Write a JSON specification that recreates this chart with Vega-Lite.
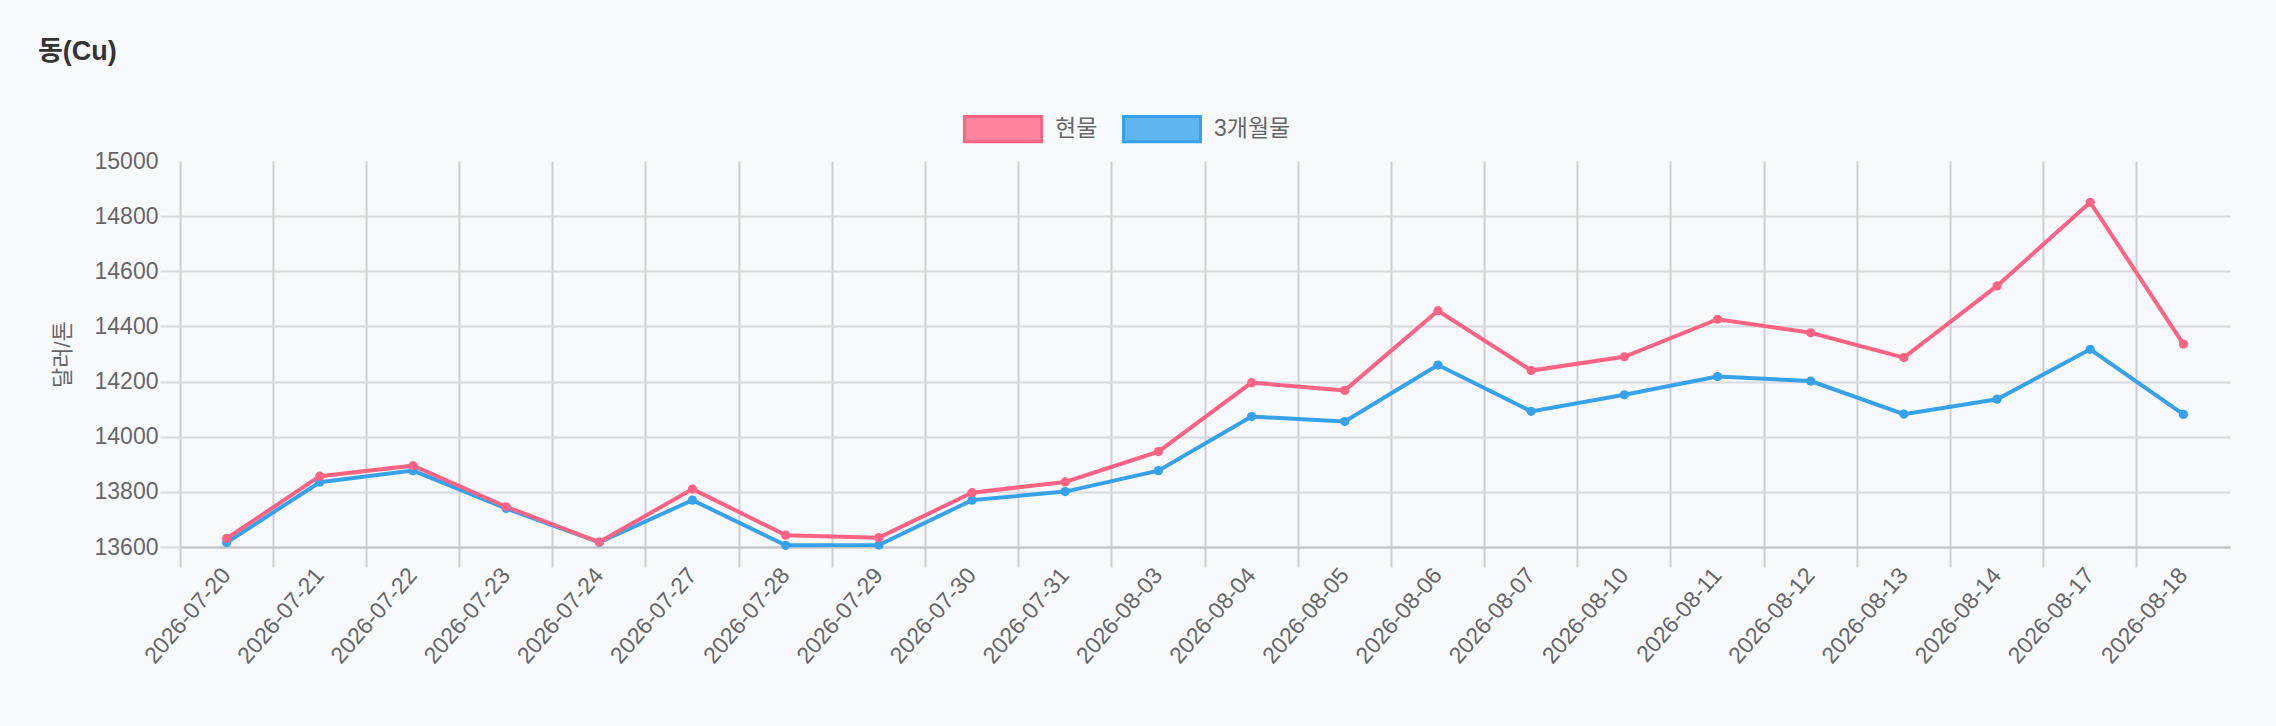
{
  "$schema": "https://vega.github.io/schema/vega-lite/v6.json",
  "width": 2050,
  "height": 386,
  "autosize": {"type": "none"},
  "padding": {"left": 180, "top": 161, "right": 46, "bottom": 179},
  "background": "#f8f9fd",
  "view": {"stroke": null},
  "config": {
    "font": "Liberation Sans, Noto Sans CJK KR, sans-serif"
  },
  "title": {
    "text": "동(Cu)",
    "anchor": "start",
    "frame": "group",
    "dx": -142,
    "offset": 23,
    "fontSize": 27,
    "fontWeight": "bold",
    "color": "#333333",
    "font": "Liberation Sans, Noto Sans CJK KR, sans-serif"
  },
  "data": {
    "values": [
      {"date": "2026-07-20", "series": "3개월물", "price": 13616},
      {"date": "2026-07-21", "series": "3개월물", "price": 13835},
      {"date": "2026-07-22", "series": "3개월물", "price": 13877},
      {"date": "2026-07-23", "series": "3개월물", "price": 13740},
      {"date": "2026-07-24", "series": "3개월물", "price": 13617},
      {"date": "2026-07-27", "series": "3개월물", "price": 13770},
      {"date": "2026-07-28", "series": "3개월물", "price": 13606},
      {"date": "2026-07-29", "series": "3개월물", "price": 13607},
      {"date": "2026-07-30", "series": "3개월물", "price": 13770},
      {"date": "2026-07-31", "series": "3개월물", "price": 13801},
      {"date": "2026-08-03", "series": "3개월물", "price": 13877},
      {"date": "2026-08-04", "series": "3개월물", "price": 14073},
      {"date": "2026-08-05", "series": "3개월물", "price": 14055},
      {"date": "2026-08-06", "series": "3개월물", "price": 14260},
      {"date": "2026-08-07", "series": "3개월물", "price": 14092},
      {"date": "2026-08-10", "series": "3개월물", "price": 14152},
      {"date": "2026-08-11", "series": "3개월물", "price": 14218},
      {"date": "2026-08-12", "series": "3개월물", "price": 14202},
      {"date": "2026-08-13", "series": "3개월물", "price": 14082},
      {"date": "2026-08-14", "series": "3개월물", "price": 14136},
      {"date": "2026-08-17", "series": "3개월물", "price": 14317},
      {"date": "2026-08-18", "series": "3개월물", "price": 14081},
      {"date": "2026-07-20", "series": "현물", "price": 13631},
      {"date": "2026-07-21", "series": "현물", "price": 13857},
      {"date": "2026-07-22", "series": "현물", "price": 13895},
      {"date": "2026-07-23", "series": "현물", "price": 13746},
      {"date": "2026-07-24", "series": "현물", "price": 13618},
      {"date": "2026-07-27", "series": "현물", "price": 13810},
      {"date": "2026-07-28", "series": "현물", "price": 13643},
      {"date": "2026-07-29", "series": "현물", "price": 13634},
      {"date": "2026-07-30", "series": "현물", "price": 13797},
      {"date": "2026-07-31", "series": "현물", "price": 13836},
      {"date": "2026-08-03", "series": "현물", "price": 13946},
      {"date": "2026-08-04", "series": "현물", "price": 14196},
      {"date": "2026-08-05", "series": "현물", "price": 14168},
      {"date": "2026-08-06", "series": "현물", "price": 14457},
      {"date": "2026-08-07", "series": "현물", "price": 14240},
      {"date": "2026-08-10", "series": "현물", "price": 14290},
      {"date": "2026-08-11", "series": "현물", "price": 14426},
      {"date": "2026-08-12", "series": "현물", "price": 14377},
      {"date": "2026-08-13", "series": "현물", "price": 14287},
      {"date": "2026-08-14", "series": "현물", "price": 14547},
      {"date": "2026-08-17", "series": "현물", "price": 14850},
      {"date": "2026-08-18", "series": "현물", "price": 14336}
    ]
  },
  "mark": {
    "type": "line",
    "strokeWidth": 4,
    "point": {"filled": true, "size": 85, "opacity": 1}
  },
  "encoding": {
    "x": {
      "field": "date",
      "type": "ordinal",
      "bandPosition": 0.5,
      "scale": {"type": "band", "paddingInner": 0, "paddingOuter": 0},
      "axis": {
        "title": null,
        "bandPosition": 0,
        "labelAngle": -49,
        "labelFontSize": 23,
        "labelColor": "#666666",
        "labelPadding": 4,
        "labelOverlap": false,
        "labelBound": false,
        "tickSize": 20,
        "tickColor": "#cdced5",
        "tickWidth": 2,
        "grid": true,
        "gridColor": "#cdced5",
        "gridWidth": 2,
        "domainColor": "#c2c3ca",
        "domainWidth": 2
      }
    },
    "y": {
      "field": "price",
      "type": "quantitative",
      "scale": {"domain": [13600, 15000], "nice": false, "zero": false},
      "axis": {
        "title": "달러/톤",
        "titleFontSize": 22,
        "titleFontWeight": "normal",
        "titleColor": "#666666",
        "titlePadding": 20,
        "values": [13600, 13800, 14000, 14200, 14400, 14600, 14800, 15000],
        "format": "d",
        "labelFontSize": 23,
        "labelColor": "#666666",
        "labelPadding": 2,
        "domain": false,
        "tickSize": 20,
        "tickColor": "#d8d9df",
        "tickWidth": 2,
        "tickOpacity": {"condition": {"test": "datum.value === 15000", "value": 0}, "value": 1},
        "gridColor": "#d8d9df",
        "gridWidth": 2,
        "gridOpacity": {"condition": {"test": "datum.value === 15000", "value": 0}, "value": 1}
      }
    },
    "color": {
      "field": "series",
      "type": "nominal",
      "scale": {"domain": ["현물", "3개월물"], "range": ["#ff6384", "#36a2eb"]},
      "legend": {
        "title": null,
        "orient": "none",
        "legendX": 783,
        "legendY": -72,
        "direction": "horizontal",
        "padding": 0,
        "symbolType": "M-1,-0.33H1V0.33H-1Z",
        "symbolSize": 5929,
        "symbolStrokeWidth": 3,
        "labelFontSize": 23,
        "labelColor": "#666666",
        "labelOffset": 12,
        "columnPadding": 19,
        "encode": {
          "symbols": {
            "update": {
              "fill": {"scale": "color", "field": "value"},
              "fillOpacity": {"value": 0.78},
              "stroke": {"scale": "color", "field": "value"},
              "strokeWidth": {"value": 3}
            }
          }
        }
      }
    }
  }
}
